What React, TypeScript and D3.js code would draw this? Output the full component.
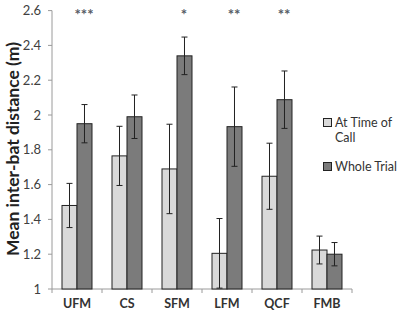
import React from "react";
import * as d3 from "d3";

const categories = ["UFM", "CS", "SFM", "LFM", "QCF", "FMB"];
const seriesNames = ["At Time of Call", "Whole Trial"];
const callValues = [1.48, 1.765, 1.69, 1.205, 1.648, 1.224];
const callErrors = [0.127, 0.17, 0.257, 0.2, 0.19, 0.08];
const trialValues = [1.95, 1.99, 2.34, 1.933, 2.088, 1.2];
const trialErrors = [0.11, 0.125, 0.108, 0.228, 0.165, 0.067];
const significance = ["***", "", "*", "**", "**", ""];
const yTicks = [1, 1.2, 1.4, 1.6, 1.8, 2, 2.2, 2.4, 2.6];

const W = 397;
const H = 313;
const FONT = "Lato, 'Open Sans', sans-serif";

export default function App() {
  const y = d3.scaleLinear().domain([1, 2.6]).range([289, 10.6]);
  const x0 = d3.scaleBand().domain(categories).range([52, 352]).paddingInner(0).paddingOuter(0);
  const x1 = d3
    .scaleBand()
    .domain(seriesNames)
    .range([0, x0.bandwidth()])
    .paddingInner(0)
    .paddingOuter(0.667);
  const fills = ["#d9d9d9", "#7b7b7b"];
  const series = [
    { name: seriesNames[0], values: callValues, errors: callErrors, fill: fills[0] },
    { name: seriesNames[1], values: trialValues, errors: trialErrors, fill: fills[1] },
  ];
  const boundaries = [...categories.map((c) => x0(c) as number), 352];

  return (
    <svg width={W} height={H} style={{ position: "absolute", left: 0, top: 0, background: "#fff" }}>
      {/* y axis */}
      <line x1={52} x2={52} y1={y(2.6)} y2={y(1)} stroke="#9a9a9a" strokeWidth={1} />
      {yTicks.map((t) => (
        <g key={t}>
          <line x1={48} x2={52} y1={y(t)} y2={y(t)} stroke="#9a9a9a" />
          <text
            x={41}
            y={y(t)}
            dy="0.35em"
            textAnchor="end"
            fontSize={13}
            fontFamily={FONT}
            fill="#404040"
          >
            {d3.format("~g")(t)}
          </text>
        </g>
      ))}
      {/* x axis */}
      <line x1={52} x2={352} y1={y(1)} y2={y(1)} stroke="#9a9a9a" />
      {boundaries.map((b, i) => (
        <line key={i} x1={b} x2={b} y1={y(1)} y2={y(1) + 4} stroke="#9a9a9a" />
      ))}
      {categories.map((c) => (
        <text
          key={c}
          x={(x0(c) as number) + x0.bandwidth() / 2}
          y={308}
          textAnchor="middle"
          fontSize={12.5}
          fontWeight="bold"
          fontFamily={FONT}
          fill="#333"
        >
          {c}
        </text>
      ))}
      {/* bars */}
      {series.map((s) =>
        categories.map((c, i) => {
          const bx = (x0(c) as number) + (x1(s.name) as number);
          const v = s.values[i];
          return (
            <rect
              key={s.name + c}
              x={bx}
              y={y(v)}
              width={x1.bandwidth()}
              height={y(1) - y(v)}
              fill={s.fill}
              stroke="#222"
              strokeWidth={1}
            />
          );
        })
      )}
      {/* error bars */}
      {series.map((s) =>
        categories.map((c, i) => {
          const cx = (x0(c) as number) + (x1(s.name) as number) + x1.bandwidth() / 2;
          const v = s.values[i];
          const e = s.errors[i];
          const top = y(v + e);
          const bot = y(Math.max(1, v - e));
          return (
            <g key={"e" + s.name + c} stroke="#222" strokeWidth={1}>
              <line x1={cx} x2={cx} y1={top} y2={bot} />
              <line x1={cx - 3} x2={cx + 3} y1={top} y2={top} />
              <line x1={cx - 3} x2={cx + 3} y1={bot} y2={bot} />
            </g>
          );
        })
      )}
      {/* significance */}
      {categories.map((c, i) =>
        significance[i] ? (
          <text
            key={"s" + c}
            x={(x0(c) as number) + x0.bandwidth() / 2 + 7}
            y={20}
            textAnchor="middle"
            fontSize={15}
            fontWeight="bold"
            fontFamily={FONT}
            fill="#555a64"
          >
            {significance[i]}
          </text>
        ) : null
      )}
      {/* y title */}
      <text
        transform={`translate(19,149) rotate(-90)`}
        textAnchor="middle"
        fontSize={17.5}
        fontWeight="bold"
        fontFamily={FONT}
        fill="#222"
      >
        Mean inter-bat distance (m)
      </text>
      {/* legend */}
      <rect x={323.5} y={118.5} width={8} height={8} fill={fills[0]} stroke="#222" />
      <text x={335} y={127} fontSize={12.5} fontFamily={FONT} fill="#333">
        At Time of
      </text>
      <text x={335} y={142} fontSize={12.5} fontFamily={FONT} fill="#333">
        Call
      </text>
      <rect x={323.5} y={162.5} width={8} height={8} fill={fills[1]} stroke="#222" />
      <text x={335} y={171} fontSize={12.5} fontFamily={FONT} fill="#333">
        Whole Trial
      </text>
    </svg>
  );
}
